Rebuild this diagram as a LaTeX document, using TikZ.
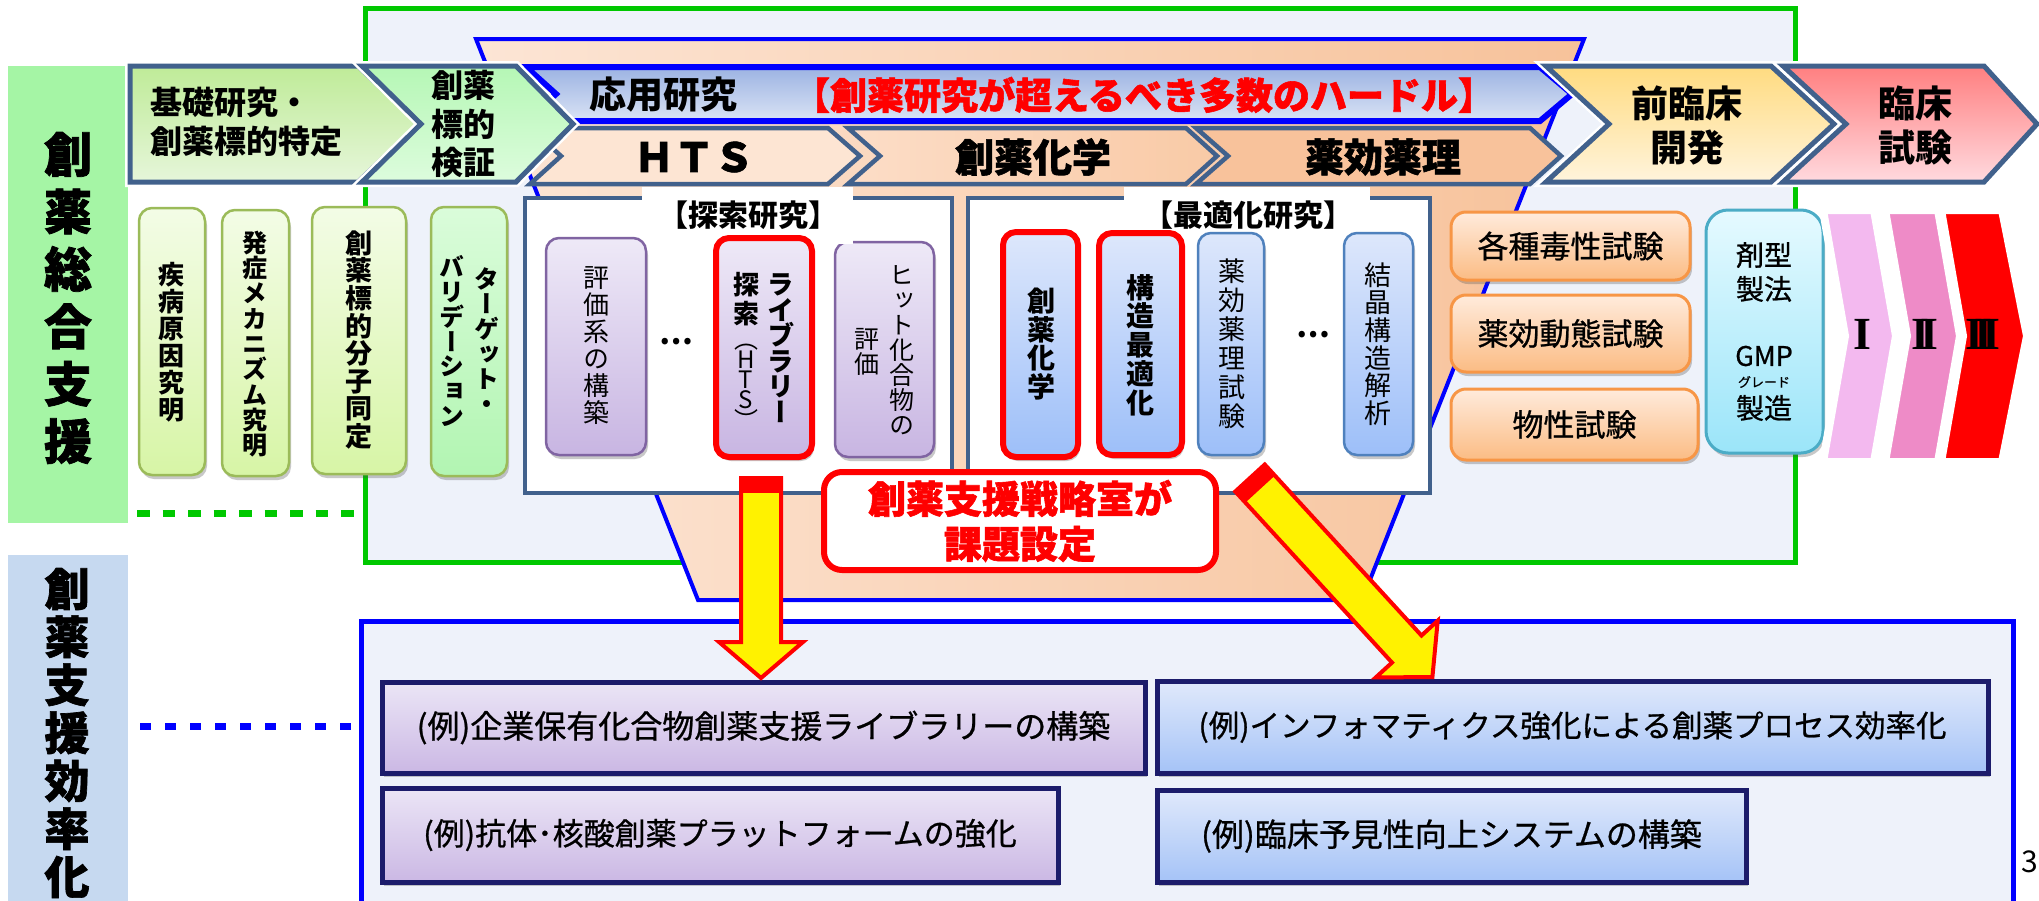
\documentclass[tikz,border=0pt]{standalone}
\usepackage{fontspec}
\setmainfont{Noto Sans CJK JP}
\newfontfamily\jpv{Noto Sans CJK JP}[RawFeature=+vert]
\newfontfamily\jpk{Noto Sans CJK JP}[FakeBold=1.5]
\newfontfamily\jpvk{Noto Sans CJK JP}[RawFeature=+vert, FakeBold=1.5]
\newfontfamily\jpm{Noto Sans CJK JP}[FakeBold=0.8]
\newfontfamily\romanfont{Liberation Serif}
\usetikzlibrary{shadows}
\definecolor{panelgreen}{HTML}{A5F5A5}
\definecolor{panelblue}{HTML}{C6D9F0}
\definecolor{bgpale}{HTML}{EEF2FA}
\definecolor{framegreen}{HTML}{00C800}
\definecolor{funL}{HTML}{FCE5D5}
\definecolor{funR}{HTML}{F7C29A}
\definecolor{bannerTop}{HTML}{9CB3E2}
\definecolor{bannerBot}{HTML}{DAE3F5}
\definecolor{steel}{HTML}{41618C}
\definecolor{htsfill}{HTML}{FDE5D3}
\definecolor{chemL}{HTML}{FCDDC7}
\definecolor{chemR}{HTML}{F9CAA6}
\definecolor{yakuri}{HTML}{F8C29B}
\definecolor{preTop}{HTML}{FFDB80}
\definecolor{preBot}{HTML}{FFF4DC}
\definecolor{cliTop}{HTML}{FF7F80}
\definecolor{cliBot}{HTML}{FFDADF}
\definecolor{aOneTop}{HTML}{BFEB98}
\definecolor{aOneBot}{HTML}{E6F6DA}
\definecolor{aTwoTop}{HTML}{B5F7B5}
\definecolor{aTwoBot}{HTML}{DDFCDD}
\definecolor{gbTop}{HTML}{F3FCE6}
\definecolor{gbBot}{HTML}{D7F5A6}
\definecolor{gbBorder}{HTML}{9BBB59}
\definecolor{gfTop}{HTML}{DAFCDA}
\definecolor{gfBot}{HTML}{B2F5B2}
\definecolor{puTop}{HTML}{EEE9F7}
\definecolor{puBot}{HTML}{C8B5E2}
\definecolor{puBorder}{HTML}{8064A2}
\definecolor{blTop}{HTML}{DDE7FB}
\definecolor{blBot}{HTML}{9DBFF9}
\definecolor{blBorder}{HTML}{4F81BD}
\definecolor{orTop}{HTML}{FFEBDC}
\definecolor{orBot}{HTML}{FBBC84}
\definecolor{orBorder}{HTML}{F79646}
\definecolor{cyTop}{HTML}{E5FAFF}
\definecolor{cyBot}{HTML}{9BE5F9}
\definecolor{cyBorder}{HTML}{4BACC6}
\definecolor{phOne}{HTML}{F3B9EF}
\definecolor{phTwo}{HTML}{EE8BC7}
\definecolor{phThree}{HTML}{FF0000}
\definecolor{exPuTop}{HTML}{EBE5F6}
\definecolor{exPuBot}{HTML}{CBB8E4}
\definecolor{exBlTop}{HTML}{E0E9FB}
\definecolor{exBlBot}{HTML}{A5C3F7}
\definecolor{navy}{HTML}{1C1C6B}
\makeatletter
\def\vt@end{\vt@end}
\def\vt@go#1#2{#1\ifx#2\vt@end\else\\\expandafter\vt@go\expandafter#2\fi}
\newcommand\vtext[1]{\vt@go#1\vt@end}
\makeatother
\tikzset{
  vcol/.style n args={3}{font=\jpv#1\fontsize{#2}{#3}\selectfont, align=center, inner sep=0pt},
  vcolk/.style n args={2}{font=\jpvk\bfseries\fontsize{#1}{#2}\selectfont, align=center, inner sep=0pt},
  htxt/.style n args={3}{font=#1\fontsize{#2}{#3}\selectfont, align=center, inner sep=0pt},
  chevtop/.style={draw=steel, line width=5pt, line join=miter, preaction={draw=white, line width=10pt}},
  chevlow/.style={draw=steel, line width=4.5pt, line join=miter},
  softshadow/.style={drop shadow={shadow xshift=2pt, shadow yshift=-4pt, opacity=0.3, fill=black!70}},
  vbox/.style={rounded corners=13pt, softshadow, inner sep=0pt},
  greenbox/.style={vbox, line width=2.5pt, draw=gbBorder, top color=gbTop, bottom color=gbBot},
  greenboxb/.style={vbox, line width=2.5pt, draw=gbBorder, top color=gfTop, bottom color=gfBot},
  purplebox/.style={vbox, line width=2.5pt, draw=puBorder, top color=puTop, bottom color=puBot},
  bluebox/.style={vbox, line width=2.5pt, draw=blBorder, top color=blTop, bottom color=blBot},
  redline/.style={draw=red, line width=6pt},
  orangebox/.style={vbox, rounded corners=15pt, line width=3pt, draw=orBorder, top color=orTop, bottom color=orBot},
  cyanbox/.style={vbox, rounded corners=22pt, line width=3pt, draw=cyBorder, top color=cyTop, bottom color=cyBot},
  phase/.style={draw=white, line width=8pt, line join=miter, drop shadow={shadow xshift=2pt, shadow yshift=-3pt, opacity=0.35, fill=black!60}},
  exbox/.style={draw=navy, line width=5pt, inner sep=0pt, softshadow, font=\jpm\fontsize{32}{32}\selectfont},
  expu/.style={exbox, top color=exPuTop, bottom color=exPuBot},
  exbl/.style={exbox, top color=exBlTop, bottom color=exBlBot},
  yarrow/.style={fill=yellow, draw=red, line width=4pt, line join=miter},
  studybox/.style={draw=steel, line width=4pt, fill=white},
  romanlab/.style={font=\romanfont\bfseries\fontsize{46}{46}\selectfont, inner sep=0pt}
}
\begin{document}
\begin{tikzpicture}[x=1pt,y=-1pt]
\useasboundingbox (0,0) rectangle (2039,900);
\fill[white] (0,0) rectangle (2039,900);

% ---- left panels
\fill[panelgreen] (8,66) rectangle (128,523);
\fill[panelblue] (8,555) rectangle (128,905);
\node[vcolk={48}{57.4}] (sogo) at (68,298) {\vtext{創薬総合支援}};
\node[vcolk={45}{48}] (koritsu) at (67,733) {\vtext{創薬支援効率化}};

% ---- green frame
\draw[framegreen, line width=5pt, fill=bgpale] (365,8) rectangle (1795,562);
\coordinate (gdot) at (137,513);
\coordinate (gframe) at (365,513);
\draw[framegreen, line width=7pt, dash pattern=on 12.5pt off 13pt] (gdot) -- (gframe);

% ---- funnel
\draw[blue, line width=4pt, left color=funL, right color=funR] (476,39) -- (1584,39) -- (1362,600) -- (698,600) -- cycle;

% ---- banner
\path[draw=blue, line width=6pt, line join=miter, top color=bannerTop, bottom color=bannerBot]
  (526,67) -- (1540,67) -- (1572,94) -- (1540,121) -- (526,121) -- (556,94) -- cycle;
\node[htxt={\bfseries}{37}{37}] (oyo) at (663,95) {応用研究};
\node[htxt={\jpk\bfseries}{37}{37}, text=red] (hurdle) at (1144,95) {【創薬研究が超えるべき多数のハードル】};

% ---- second row chevrons
\path[chevlow, fill=htsfill] (530,128) -- (828,128) -- (860,156) -- (828,184) -- (530,184) -- (561,156) -- cycle;
\path[chevlow, left color=chemL, right color=chemR] (848,128) -- (1186,128) -- (1217,156) -- (1186,184) -- (848,184) -- (880,156) -- cycle;
\path[chevlow, fill=yakuri] (1196,128) -- (1530,128) -- (1561,156) -- (1530,184) -- (1196,184) -- (1228,156) -- cycle;
\node[htxt={\jpk\bfseries}{40}{40}] (hts) at (694,157) {ＨＴＳ};
\node[htxt={\jpk\bfseries}{39}{39}] (chem) at (1033,157) {創薬化学};
\node[htxt={\jpk\bfseries}{39}{39}] (pharm) at (1383,157) {薬効薬理};

% ---- top row chevrons
\path[chevtop, top color=aOneTop, bottom color=aOneBot] (130,66) -- (358,66) -- (419,124) -- (358,182) -- (130,182) -- cycle;
\path[chevtop, top color=aTwoTop, bottom color=aTwoBot] (362,66) -- (516,66) -- (573,124) -- (516,182) -- (362,182) -- (421,124) -- cycle;
\path[chevtop, top color=preTop, bottom color=preBot] (1546,66) -- (1771,66) -- (1834,124) -- (1771,182) -- (1546,182) -- (1609,124) -- cycle;
\path[chevtop, top color=cliTop, bottom color=cliBot] (1783,66) -- (1984,66) -- (2037,124) -- (1984,182) -- (1783,182) -- (1846,124) -- cycle;
\node[htxt={\bfseries}{32}{39}, align=left, anchor=west] (kiso) at (150,122) {基礎研究・\\創薬標的特定};
\node[htxt={\bfseries}{32}{38.5}] (kensho) at (463,124) {創薬\\標的\\検証};
\node[htxt={\bfseries}{37}{44}] (preclin) at (1687,125) {前臨床\\開発};
\node[htxt={\bfseries}{37}{44}] (clin) at (1915,125) {臨床\\試験};

% ---- basic research boxes
\node[greenbox, minimum width=66pt, minimum height=267pt] (g1) at (172,341.5) {};
\node[greenbox, minimum width=67pt, minimum height=266pt] (g2) at (255.5,343) {};
\node[greenbox, minimum width=94pt, minimum height=267pt] (g3) at (359,340.5) {};
\node[greenboxb, minimum width=76pt, minimum height=269pt] (g4) at (469,341.5) {};
\node[vcol={\bfseries}{26}{27}] (g1t) at (171,342) {\vtext{疾病原因究明}};
\node[vcol={\bfseries}{25}{25.3}] (g2t) at (255,344) {\vtext{発症メカニズム究明}};
\node[vcol={\bfseries}{27}{27.6}] (g3t) at (359,340) {\vtext{創薬標的分子同定}};
\node[vcol={\bfseries}{25}{25}] (g4a) at (487,341) {\vtext{ターゲット・}};
\node[vcol={\bfseries}{25}{24.7}] (g4b) at (452,341) {\vtext{バリデーション}};

% ---- exploratory research
\draw[studybox] (525,198) rectangle (952,493);
\node[purplebox, minimum width=99pt, minimum height=215pt] (p3) at (884.5,349.5) {};
\fill[white] (642,187) rectangle (853,244);
\node[htxt={\bfseries}{30}{30}] (tanlab) at (748,215) {【探索研究】};
\node[purplebox, minimum width=100pt, minimum height=217pt] (p1) at (596,346.5) {};
\node[purplebox, redline, minimum width=96pt, minimum height=219pt] (p2) at (764,347.5) {};
\node[vcol={}{26}{27}] (p1t) at (596,346) {\vtext{評価系の構築}};
\node[htxt={\bfseries}{30}{30}] (dots1) at (676,342) {…};
\node[vcol={\bfseries}{27}{25.5}] (p2a) at (781,348) {\vtext{ライブラリー}};
\node[vcol={\bfseries}{26}{29}] (p2s) at (746,299) {\vtext{探索}};
\node[vcol={}{24}{20}] (p2h) at (746,387) {\vtext{（HTS）}};
\node[vcol={}{25}{25}] (p3a) at (902,350) {\vtext{ヒット化合物の}};
\node[vcol={}{25}{25}] (p3b) at (867,352) {\vtext{評価}};

% ---- optimisation research
\draw[studybox] (968,198) rectangle (1430,493);
\fill[white] (1124,187) rectangle (1370,233);
\node[htxt={\bfseries}{30}{30}] (optlab) at (1248,215) {【最適化研究】};
\node[bluebox, redline, minimum width=75pt, minimum height=225pt] (b1) at (1040.5,344.5) {};
\node[bluebox, redline, minimum width=83pt, minimum height=222pt] (b2) at (1140.5,344) {};
\node[bluebox, minimum width=66pt, minimum height=222pt] (b3) at (1231,344) {};
\node[bluebox, minimum width=69pt, minimum height=222pt] (b4) at (1378.5,344) {};
\node[vcol={\bfseries}{28}{28.7}] (b1t) at (1041,344) {\vtext{創薬化学}};
\node[vcol={\bfseries}{28}{28.7}] (b2t) at (1140,345) {\vtext{構造最適化}};
\node[vcol={}{27}{29}] (b3t) at (1232,344) {\vtext{薬効薬理試験}};
\node[htxt={\bfseries}{30}{30}] (dots2) at (1313,335) {…};
\node[vcol={}{27}{27.6}] (b4t) at (1378,344) {\vtext{結晶構造解析}};

% ---- preclinical boxes
\node[orangebox, minimum width=239pt, minimum height=68pt, font=\jpm\fontsize{31}{31}\selectfont] (o1) at (1570.5,246) {各種毒性試験};
\node[orangebox, minimum width=239pt, minimum height=77pt, font=\jpm\fontsize{31}{31}\selectfont] (o2) at (1570.5,333.5) {薬効動態試験};
\node[orangebox, minimum width=247pt, minimum height=71pt, font=\jpm\fontsize{31}{31}\selectfont] (o3) at (1574.5,424.5) {物性試験};
\node[cyanbox, minimum width=117pt, minimum height=243pt] (cy) at (1764.5,331.5) {};
\node[htxt={\jpm}{28}{34}] (zai) at (1764,272) {剤型\\製法};
\node[htxt={\jpm}{27}{27}] (gmp) at (1764,356) {GMP};
\node[htxt={\jpm}{13}{13}] (grade) at (1764,382) {グレード};
\node[htxt={\jpm}{28}{28}] (seizo) at (1764,408) {製造};

% ---- clinical phases
\path[phase, fill=phOne] (1823,210) -- (1874,210) -- (1896,336) -- (1874,462) -- (1823,462) -- (1845,336) -- cycle;
\path[phase, fill=phTwo] (1885,210) -- (1938,210) -- (1960,336) -- (1938,462) -- (1885,462) -- (1907,336) -- cycle;
\path[phase, fill=phThree] (1941,210) -- (2002,210) -- (2027,336) -- (2002,462) -- (1941,462) -- (1963,336) -- cycle;
\node[romanlab] (ph1) at (1862,334) {I};
\node[romanlab] (ph2) at (1925,334) {I\kern-9ptI};
\node[romanlab] (ph3) at (1983,334) {I\kern-9ptI\kern-9ptI};

% ---- strategy office box
\node[draw=red, line width=6pt, fill=white, rounded corners=18pt, minimum width=392pt, minimum height=98pt,
      htxt={\jpk\bfseries}{38}{45}, text=red] (task) at (1020,521) {創薬支援戦略室が\\課題設定};

% ---- bottom frame
\coordinate (bdot) at (140,726);
\coordinate (bframe) at (361,726);
\draw[blue, line width=7pt, dash pattern=on 11pt off 14pt] (bdot) -- (bframe);
\draw[blue, line width=5pt, fill=bgpale] (361,621) rectangle (2013,915);
\node[expu, minimum width=763pt, minimum height=91pt] (ex1) at (763.5,727.5) {(例)企業保有化合物創薬支援ライブラリーの構築};
\node[expu, minimum width=676pt, minimum height=94pt, font=\jpm\fontsize{31}{31}\selectfont] (ex2) at (720,835) {(例)抗体･核酸創薬プラットフォームの強化};
\node[exbl, minimum width=831pt, minimum height=92pt, font=\jpm\fontsize{30.5}{30.5}\selectfont] (ex3) at (1572.5,727) {(例)インフォマティクス強化による創薬プロセス効率化};
\node[exbl, minimum width=589pt, minimum height=92pt] (ex4) at (1451.5,836) {(例)臨床予見性向上システムの構築};

% ---- yellow arrows
\coordinate (arrA) at (761,478);
\draw[yarrow] (741,478) -- (781,478) -- (781,642) -- (803,642) -- (761,678) -- (719,642) -- (741,642) -- cycle;
\fill[red] (741,478) rectangle (781,493);
\coordinate (arrB) at (1250,478);
\begin{scope}[shift={(arrB)}, rotate=42.5]
  \draw[yarrow] (-20,0) -- (20,0) -- (20,232) -- (42,232) -- (0,270) -- (-42,232) -- (-20,232) -- cycle;
  \fill[red] (-20,0) rectangle (20,15);
\end{scope}

\node[htxt={}{30}{30}] (pg) at (2030,862) {3};
\end{tikzpicture}
\end{document}
